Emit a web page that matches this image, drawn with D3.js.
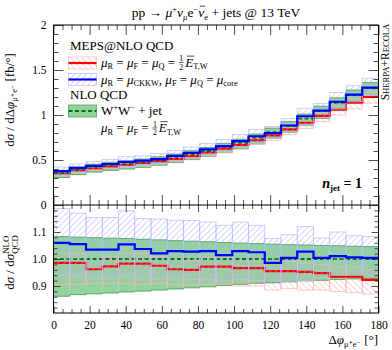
<!DOCTYPE html>
<html>
<head>
<meta charset="utf-8">
<script src="https://cdn.jsdelivr.net/npm/d3@7"></script>
<style>
  body { margin: 0; background: #fff; }
  svg { display: block; font-family: "Liberation Serif", "DejaVu Serif", serif; }
</style>
</head>
<body>
<div id="viz"></div>
<script>
// bins of 9 degrees
var binEdges = [0, 9, 18, 27, 36, 45, 54, 63, 72, 81, 90, 99, 108, 117, 126, 135, 144, 153, 162, 171, 180];

// NLO QCD central value, fb/deg
var nloVal = [0.355, 0.39, 0.42, 0.44, 0.455, 0.475, 0.50, 0.53, 0.565, 0.60, 0.645, 0.69, 0.745, 0.81, 0.88, 0.96, 1.045, 1.135, 1.22, 1.30];
// NLO scale band (ratio to NLO)
var nloHi = [1.083, 1.081, 1.079, 1.077, 1.076, 1.073, 1.071, 1.068, 1.066, 1.064, 1.061, 1.059, 1.057, 1.055, 1.053, 1.052, 1.050, 1.049, 1.047, 1.046];
var nloLo = [0.862, 0.868, 0.871, 0.874, 0.878, 0.881, 0.885, 0.889, 0.893, 0.897, 0.902, 0.906, 0.910, 0.913, 0.916, 0.919, 0.921, 0.924, 0.926, 0.928];

// MEPS@NLO, mu = 1/2 ET,W  (ratio to NLO)
var redR  = [0.986, 0.986, 0.962, 0.973, 0.983, 0.983, 0.975, 0.962, 0.960, 0.972, 0.972, 0.966, 0.966, 0.955, 0.955, 0.952, 0.948, 0.935, 0.935, 0.923];
var redHi = [1.020, 1.020, 1.000, 1.010, 1.020, 1.020, 1.010, 1.000, 0.995, 1.005, 1.005, 1.000, 1.000, 0.990, 0.990, 0.985, 0.980, 0.970, 0.970, 0.960];
var redLo = [0.905, 0.905, 0.910, 0.910, 0.910, 0.905, 0.910, 0.905, 0.905, 0.905, 0.905, 0.900, 0.900, 0.885, 0.890, 0.885, 0.885, 0.880, 0.875, 0.870];

// MEPS@NLO, mu_R = mu_CKKW  (ratio to NLO)
var blueR  = [1.060, 1.055, 1.035, 1.035, 1.054, 1.037, 1.021, 1.029, 1.027, 1.029, 1.014, 1.029, 1.025, 0.986, 1.004, 1.027, 1.004, 1.011, 1.006, 1.004];
var blueHi = [1.187, 1.170, 1.154, 1.154, 1.178, 1.150, 1.148, 1.144, 1.142, 1.137, 1.125, 1.137, 1.125, 1.076, 1.090, 1.120, 1.078, 1.100, 1.086, 1.084];
var blueLo = [0.940, 0.940, 0.930, 0.930, 0.940, 0.930, 0.925, 0.930, 0.925, 0.925, 0.920, 0.925, 0.920, 0.910, 0.915, 0.920, 0.930, 0.940, 0.940, 0.940];

var xTicks = [0, 20, 40, 60, 80, 100, 120, 140, 160, 180];
var upTicks = [0, 0.5, 1, 1.5, 2];
var upLabels = ["0", "0.5", "1", "1.5", "2"];
var ratTicks = [0.9, 1.0, 1.1];
var ratLabels = ["0.9", "1.0", "1.1"];

var width = 392, height = 350;
var x = d3.scaleLinear().domain([0, 180]).range([53.5, 378.5]);
var yU = d3.scaleLinear().domain([0, 2]).range([205, 25]);
var yL = d3.scaleLinear().domain([0.8, 1.2]).range([313, 205]);

var svg = d3.select("#viz").append("svg")
  .attr("width", width)
  .attr("height", height);

var defs = svg.append("defs");
function hatch(id, angle, color) {
  defs.append("pattern")
    .attr("id", id)
    .attr("width", 4.2).attr("height", 4.2)
    .attr("patternUnits", "userSpaceOnUse")
    .attr("patternTransform", "rotate(" + angle + ")")
    .append("line")
    .attr("x1", 0).attr("y1", 0).attr("x2", 0).attr("y2", 4.2)
    .attr("stroke", color).attr("stroke-width", 0.9);
}
hatch("hBlue", 45, "#a4a4ff");
hatch("hRed", -45, "#ff9a9a");

defs.append("clipPath").attr("id", "clipU").append("rect")
  .attr("x", 53.5).attr("y", 25).attr("width", 325).attr("height", 180);
defs.append("clipPath").attr("id", "clipL").append("rect")
  .attr("x", 53.5).attr("y", 205).attr("width", 325).attr("height", 108);

function steps(vals) {
  var pts = [];
  vals.forEach(function(v, i) {
    pts.push([binEdges[i], v]);
    pts.push([binEdges[i + 1], v]);
  });
  return pts;
}

// draws one panel; f converts a ratio value of bin i into the panel's y value
function panel(clip, y, f) {
  var g = svg.append("g").attr("clip-path", "url(#" + clip + ")");
  var line = d3.line().x(function(p) { return x(p[0]); }).y(function(p) { return y(p[1]); });

  function band(hi, lo, fill, stroke) {
    g.append("g").selectAll("rect").data(hi).join("rect")
      .attr("x", function(d, i) { return x(binEdges[i]); })
      .attr("width", function(d, i) { return x(binEdges[i + 1]) - x(binEdges[i]); })
      .attr("y", function(d, i) { return y(f(hi[i], i)); })
      .attr("height", function(d, i) { return y(f(lo[i], i)) - y(f(hi[i], i)); })
      .attr("fill", fill)
      .attr("stroke", stroke).attr("stroke-width", stroke === "none" ? 0 : 0.7);
  }
  function curve(vals, color, w, dash) {
    g.append("path").attr("d", line(steps(vals)))
      .attr("fill", "none").attr("stroke", color).attr("stroke-width", w)
      .attr("stroke-dasharray", dash || null);
  }

  // NLO band
  band(nloHi, nloLo, "#93d3a0", "none");
  [nloHi, nloLo].forEach(function(arr) { curve(arr.map(f), "#3c9a4a", 0.8); });

  // red: hatch, line; blue hatch lies over it
  band(redHi, redLo, "url(#hRed)", "#ffb4b4");
  curve(redR.map(f), "#f00", 2.2);
  curve(nloHi.map(function(d, i) { return f(1, i); }), "#0a6e14", 1.8, "4,2.5");
  band(blueHi, blueLo, "url(#hBlue)", "#bcbcff");
  curve(blueR.map(f), "#00f", 2.2);
}

panel("clipU", yU, function(r, i) { return r * nloVal[i]; });
panel("clipL", yL, function(r) { return r; });

// ---- axes ----
var xMinor = d3.range(0, 181, 5).filter(function(v) { return v % 20 !== 0; });
var uMinor = d3.range(0, 2.01, 0.1).filter(function(v) { return Math.abs(v * 2 - Math.round(v * 2)) > 0.01; });
var lMinor = d3.range(0.8, 1.201, 0.02).filter(function(v) { return Math.abs(v * 10 - Math.round(v * 10)) > 0.01; });

function ax(gen, tr, vals, size, fmt, pad) {
  var a = gen.tickValues(vals).tickSizeInner(-size).tickSizeOuter(0).tickPadding(pad || 3)
    .tickFormat(fmt || "");
  var g = svg.append("g").attr("transform", tr).call(a);
  g.select(".domain").remove();
  g.selectAll("line").attr("stroke", "#222").attr("stroke-width", 0.8);
  g.selectAll("text").attr("font-family", "Liberation Serif").attr("font-size", 11.5).attr("fill", "#000");
  return g;
}

// upper panel
ax(d3.axisLeft(yU), "translate(53.5,0)", upTicks, 10, function(d, i) { return upLabels[i]; }, 7);
ax(d3.axisLeft(yU), "translate(53.5,0)", uMinor, 5);
ax(d3.axisRight(yU), "translate(378.5,0)", upTicks, 10);
ax(d3.axisRight(yU), "translate(378.5,0)", uMinor, 5);
ax(d3.axisTop(x), "translate(0,25)", xTicks, 10);
ax(d3.axisTop(x), "translate(0,25)", xMinor, 5);
ax(d3.axisBottom(x), "translate(0,205)", xTicks, 10);
ax(d3.axisBottom(x), "translate(0,205)", xMinor, 5);
// lower panel
ax(d3.axisLeft(yL), "translate(53.5,0)", ratTicks, 7, function(d, i) { return ratLabels[i]; }, 7);
ax(d3.axisLeft(yL), "translate(53.5,0)", lMinor, 4);
ax(d3.axisRight(yL), "translate(378.5,0)", ratTicks, 7);
ax(d3.axisRight(yL), "translate(378.5,0)", lMinor, 4);
ax(d3.axisTop(x), "translate(0,205)", xTicks, 7);
ax(d3.axisTop(x), "translate(0,205)", xMinor, 4);
ax(d3.axisBottom(x), "translate(0,313)", xTicks, 7, function(d) { return d; }, 8);
ax(d3.axisBottom(x), "translate(0,313)", xMinor, 4);

svg.append("rect").attr("x", 53.5).attr("y", 25).attr("width", 325).attr("height", 288)
  .attr("fill", "none").attr("stroke", "#000").attr("stroke-width", 1);
svg.append("line").attr("x1", 53.5).attr("x2", 378.5).attr("y1", 205).attr("y2", 205)
  .attr("stroke", "#000").attr("stroke-width", 1);

// ---- text helpers ----
function rich(g, x0, y0, segs, size, weight) {
  var cx = x0;
  segs.forEach(function(s) {
    if (s.frac) {
      var fs = size * 0.6;
      var a = g.append("text").attr("x", cx + 1).attr("y", y0 - size * 0.42).attr("font-size", fs).text(s.frac[0]);
      var b = g.append("text").attr("x", cx + 1).attr("y", y0 + size * 0.26).attr("font-size", fs).text(s.frac[1]);
      var w = Math.max(a.node().getComputedTextLength(), b.node().getComputedTextLength());
      g.append("line").attr("x1", cx + 0.5).attr("x2", cx + w + 1.5)
        .attr("y1", y0 - size * 0.31).attr("y2", y0 - size * 0.31)
        .attr("stroke", "#000").attr("stroke-width", 0.6);
      cx += w + 3;
      return;
    }
    if (s.stack) {
      var fs2 = size * 0.68;
      var t1 = g.append("text").attr("x", cx).attr("y", y0 - size * 0.42).attr("font-size", fs2).text(s.stack[0]);
      var t2 = g.append("text").attr("x", cx).attr("y", y0 + size * 0.3).attr("font-size", fs2).text(s.stack[1]);
      cx += Math.max(t1.node().getComputedTextLength(), t2.node().getComputedTextLength()) + 1;
      return;
    }
    var fs = s.sub || s.sup ? size * 0.64 : (s.size || size);
    var dy = s.sub ? size * 0.22 : s.sup ? -size * 0.4 : 0;
    var t = g.append("text").attr("x", cx).attr("y", y0 + dy).attr("font-size", fs)
      .style("font-style", s.it ? "italic" : "normal")
      .style("font-weight", weight || "normal")
      .text(s.t.replace(/ /g, "\u00a0"));
    var w = t.node().getComputedTextLength();
    if (s.over) {
      g.append("line").attr("x1", cx + (s.it ? 1.5 : 0.5)).attr("x2", cx + w + (s.it ? 1 : 0))
        .attr("y1", y0 + dy - fs * 0.8).attr("y2", y0 + dy - fs * 0.8)
        .attr("stroke", "#000").attr("stroke-width", 0.7);
    }
    cx += w;
  });
  return cx;
}

function placed(tx, ty, rot, anchor, segs, size, weight) {
  var g = svg.append("g");
  var w = rich(g, 0, 0, segs, size, weight);
  var off = anchor === "middle" ? -w / 2 : anchor === "end" ? -w : 0;
  g.attr("transform", "translate(" + tx + "," + ty + ") rotate(" + rot + ") translate(" + off + ",0)");
  return g;
}

// title
placed(216, 17, 0, "middle", [
  {t: "pp \u2192 "}, {t: "\u03bc", it: true}, {t: "+", sup: true}, {t: "\u03bd", it: true}, {t: "\u03bc", sub: true, it: true},
  {t: "e"}, {t: "\u2212", sup: true}, {t: "\u03bd", it: true, over: true}, {t: "e", sub: true},
  {t: " + jets @ 13 TeV"}
], 13.5);

// axis titles
placed(14, 100, -90, "middle", [
  {t: "d"}, {t: "\u03c3", it: true}, {t: " / d\u0394"}, {t: "\u03c6", it: true},
  {t: "\u03bc\u207ae\u207b", sub: true}, {t: " [fb/\u00b0]"}
], 13);
placed(14, 262, -90, "middle", [
  {t: "d"}, {t: "\u03c3", it: true}, {t: " / d"}, {t: "\u03c3", it: true}, {stack: ["NLO", "QCD"]}
], 13);
placed(378, 344, 0, "end", [
  {t: "\u0394"}, {t: "\u03c6", it: true}, {t: "\u03bc\u207ae\u207b", sub: true}, {t: " [\u00b0]"}
], 13);

// Sherpa+Recola
placed(389, 62, -90, "middle", [
  {t: "S", size: 11.5}, {t: "HERPA", size: 8.6}, {t: "+", size: 11.5}, {t: "R", size: 11.5}, {t: "ECOLA", size: 8.6}
], 11.5);

// n_jet = 1
placed(362, 188, 0, "end", [
  {t: "n", it: true}, {t: "jet", sub: true}, {t: " = 1"}
], 14, "bold");

// ---- legend ----
function swatch(yc, fill, stroke, lineColor, dash) {
  svg.append("rect").attr("x", 68.5).attr("y", yc - 6).attr("width", 28).attr("height", 12)
    .attr("fill", fill)
    .attr("stroke", stroke).attr("stroke-width", 0.7);
  svg.append("line").attr("x1", 68.5).attr("x2", 96.5).attr("y1", yc).attr("y2", yc)
    .attr("stroke", lineColor).attr("stroke-width", dash ? 1.8 : 2.2)
    .attr("stroke-dasharray", dash || null);
}

placed(70, 50, 0, "start", [{t: "MEPS@NLO QCD"}], 13);
swatch(63, "url(#hRed)", "#ffb4b4", "#f00");
placed(101, 66.5, 0, "start", [
  {t: "\u03bc", it: true}, {t: "R", sub: true}, {t: " = "}, {t: "\u03bc", it: true}, {t: "F", sub: true}, {t: " = "},
  {t: "\u03bc", it: true}, {t: "Q", sub: true}, {t: " = "}, {frac: ["1", "2"]}, {t: "E", it: true, over: true}, {t: "T,W", sub: true}
], 13);
swatch(79.5, "url(#hBlue)", "#bcbcff", "#00f");
placed(101, 83.5, 0, "start", [
  {t: "\u03bc", it: true}, {t: "R", sub: true}, {t: " = "}, {t: "\u03bc", it: true}, {t: "CKKW", sub: true}, {t: ", "},
  {t: "\u03bc", it: true}, {t: "F", sub: true}, {t: " = "}, {t: "\u03bc", it: true}, {t: "Q", sub: true}, {t: " = "},
  {t: "\u03bc", it: true}, {t: "core", sub: true}
], 13);
placed(70, 99, 0, "start", [{t: "NLO QCD"}], 13);
swatch(111, "#93d3a0", "#3c9a4a", "#0a6e14", "4,2.5");
placed(101, 115, 0, "start", [
  {t: "W"}, {t: "+", sup: true}, {t: "W"}, {t: "\u2212", sup: true}, {t: " + jet"}
], 13);
placed(101, 132, 0, "start", [
  {t: "\u03bc", it: true}, {t: "R", sub: true}, {t: " = "}, {t: "\u03bc", it: true}, {t: "F", sub: true}, {t: " = "},
  {frac: ["1", "2"]}, {t: "E", it: true, over: true}, {t: "T,W", sub: true}
], 13);
</script>
</body>
</html>
